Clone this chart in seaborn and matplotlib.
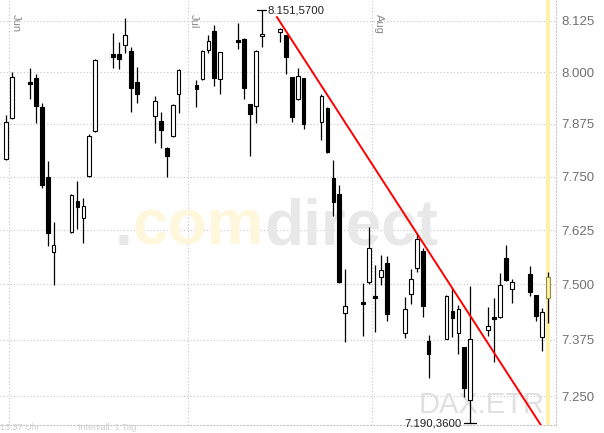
import pandas as pd
import matplotlib
matplotlib.use("Agg")
import matplotlib.pyplot as plt
import seaborn as sns
from matplotlib.ticker import FixedLocator, NullLocator, FuncFormatter
import matplotlib.transforms as mtransforms

# DAX (Xetra) daily candles, 31 May - 30 Aug 2007
dates = pd.bdate_range("2007-05-31", "2007-08-30")
opens = [7792, 7889, 7976, 7986, 7916, 7749, 7574, 7620, 7693, 7653, 7751, 7858,
         8044, 8044, 8066, 8051, 7976, 7894, 7882, 7818, 7846, 7947, 7969, 7983,
         8054, 8100, 7983, 8078, 8080, 7922, 7918, 8088, 8098, 8090, 7987, 7935,
         7985, 7880, 7913, 7746, 7709, 7435, 7460, 7506, 7474, 7517, 7549, 7390,
         7478, 7538, 7577, 7372, 7377, 7440, 7390, 7358, 7241, 7397, 7426, 7426,
         7561, 7490, 7524, 7475, 7381, 7469]
highs = [7896, 8000, 8010, 7995, 7925, 7787, 7644, 7708, 7739, 7700, 7851, 8032,
         8096, 8074, 8132, 8061, 8012, 7942, 7904, 7821, 7923, 8007, 7981, 8054,
         8091, 8115, 8050, 8120, 8083, 7923, 8054, 8151.57, 8108, 8091, 7988, 8010,
         7986, 7947, 7916, 7789, 7730, 7535, 7503, 7632, 7545, 7568, 7565, 7472,
         7535, 7618, 7584, 7386, 7476, 7492, 7453, 7359, 7496, 7449, 7469, 7526,
         7591, 7512, 7542, 7476, 7447, 7528]
lows = [7789, 7887, 7935, 7877, 7723, 7588, 7499, 7618, 7627, 7595, 7749, 7856,
        8010, 8007, 8047, 7904, 7925, 7830, 7818, 7749, 7844, 7901, 7916, 7981,
        8047, 7966, 7947, 8056, 7935, 7799, 7877, 8061, 8074, 7995, 7880, 7933,
        7863, 7837, 7806, 7658, 7503, 7370, 7383, 7501, 7392, 7499, 7417, 7379,
        7456, 7528, 7426, 7290, 7376, 7381, 7343, 7248, 7190.36, 7383, 7325, 7424,
        7509, 7458, 7474, 7417, 7350, 7413]
closes = [7880, 7988, 7971, 7918, 7730, 7618, 7591, 7706, 7679, 7681, 7846, 8029,
          8037, 8032, 8091, 7961, 7947, 7930, 7861, 7799, 7921, 8005, 7959, 8051,
          8076, 7986, 8049, 8074, 7961, 7899, 8051, 8093, 8105, 8037, 7892, 7990,
          7875, 7942, 7808, 7690, 7506, 7451, 7456, 7584, 7469, 7533, 7433, 7444,
          7512, 7604, 7451, 7343, 7474, 7424, 7444, 7268, 7377, 7406, 7422, 7499,
          7510, 7506, 7483, 7429, 7438, 7517]

y_ticks = [7250, 7375, 7500, 7625, 7750, 7875, 8000, 8125]
months = ["Jun", "Jul", "Aug"]
month_starts = ["2007-06-01", "2007-07-01", "2007-08-01"]
trend_dates = ["2007-07-15 12:00", "2007-08-28 21:00"]
trend_values = [8135, 7186]
high_label = "8.151,5700"
low_label = "7.190,3600"

base = pd.Timestamp("2007-05-31")
df = pd.DataFrame({"date": dates, "open": opens, "high": highs,
                   "low": lows, "close": closes})
df["x"] = (df["date"] - base).dt.days
df["up"] = df["close"] >= df["open"]

sns.set_theme(style="white")
plt.rcParams["font.family"] = ["Liberation Sans", "DejaVu Sans"]

fig = plt.figure(figsize=(6.04, 4.33), dpi=100)
ax = fig.add_axes([0, 8 / 433, 556 / 604, 425 / 433])
ax.set_yscale("log")

grid_kw = dict(color="#c4c4c4", linestyle=(0, (1, 2)), linewidth=0.8)
for m in month_starts:
    ax.axvline((pd.Timestamp(m) - base).days - 0.5, zorder=0.6, **grid_kw)
for v in y_ticks:
    ax.axhline(v, zorder=0.6, **grid_kw)

# highlighted current day
last = df.iloc[-1]
ax.axvspan(last["x"] - 0.35, last["x"] + 0.35, color="#fff1a8", zorder=0.7, lw=0)

# watermarks
t1 = ax.text(115 / 556, 1 - 245 / 425, ".", transform=ax.transAxes, fontsize=46,
             fontweight="bold", color="#e8e8e8", va="baseline", zorder=0.8)
t2 = ax.annotate("com", xy=(1, 0), xycoords=t1, va="bottom", fontsize=46,
                 fontweight="bold", color="#fff7dc", zorder=0.8)
ax.annotate("direct", xy=(1, 0), xycoords=t2, va="bottom", fontsize=46,
            fontweight="bold", color="#e8e8e8", zorder=0.8)
ax.text(545 / 556, 1 - 413 / 425, "DAX.ETR", transform=ax.transAxes, fontsize=21,
        color="#e0e0e0", ha="right", va="baseline", zorder=0.8)

# wicks
ax.vlines(df["x"], df["low"], df["high"], color="black", lw=0.9, zorder=2)

# bodies
body_lo = df[["open", "close"]].min(axis=1)
body_h = (df["close"] - df["open"]).abs().clip(lower=2.5)
faces = ["white" if u else "black" for u in df["up"]]
edges = ["black"] * len(df)
faces[-1] = "#fff1a8"
edges[-1] = "#8f8f3a"
ax.bar(df["x"], body_h, bottom=body_lo, width=0.62, color=faces,
       edgecolor=edges, linewidth=0.8, zorder=3)

# trend line
trend_x = [(pd.Timestamp(t) - base) / pd.Timedelta(days=1) for t in trend_dates]
sns.lineplot(x=trend_x, y=trend_values, color="red", lw=1.4, ax=ax, zorder=4)

# high / low markers
hi = df.loc[df["high"].idxmax()]
lo = df.loc[df["low"].idxmin()]
ax.plot([hi["x"] - 0.75, hi["x"] + 0.75], [hi["high"]] * 2, color="black", lw=0.9)
ax.text(hi["x"] + 1.0, hi["high"], high_label, fontsize=8.2, color="#222222",
        ha="left", va="center")
ax.plot([lo["x"] - 1.0, lo["x"] + 1.0], [lo["low"]] * 2, color="black", lw=0.9)
ax.text(lo["x"] - 1.5, lo["low"], low_label, fontsize=8.2, color="#222222",
        ha="right", va="center")

# month labels
blend = mtransforms.blended_transform_factory(ax.transData, ax.transAxes)
for name, m in zip(months, month_starts):
    ax.text((pd.Timestamp(m) - base).days + 0.6, 1 - 14 / 425, name, transform=blend,
            rotation=270, fontsize=8, color="#8a8a8a", ha="center", va="top")

ax.set_xlim(-1.01, 92.4)
ax.set_ylim(7186.5, 8177)
ax.set_xticks([])
ax.yaxis.tick_right()
ax.yaxis.set_major_locator(FixedLocator(y_ticks))
ax.yaxis.set_minor_locator(NullLocator())
ax.yaxis.set_major_formatter(FuncFormatter(lambda v, p: f"{v:,.0f}".replace(",", ".")))
ax.tick_params(axis="y", length=0, pad=4, labelsize=9.5, labelcolor="#707070")

for s in ["top", "left"]:
    ax.spines[s].set_visible(False)
for s in ["right", "bottom"]:
    ax.spines[s].set_color("#c4c4c4")
    ax.spines[s].set_linestyle((0, (1, 2)))
    ax.spines[s].set_linewidth(0.8)

fig.text(0.0, 0.5 / 433, "13:37 Uhr", fontsize=6.5, color="#d0d0d0", va="bottom")
fig.text(78 / 604, 0.5 / 433, "Intervall: 1 Tag", fontsize=6.5, color="#d0d0d0",
         va="bottom")

fig.savefig("out.png", dpi=100)
